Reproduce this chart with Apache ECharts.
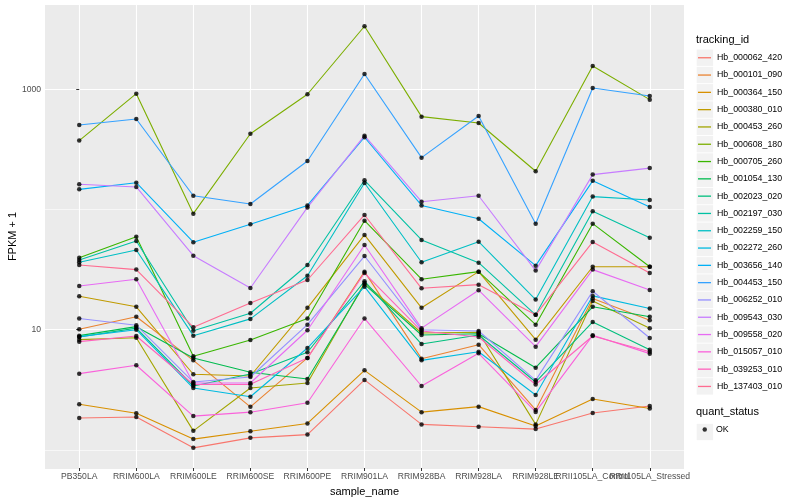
<!DOCTYPE html>
<html><head><meta charset="utf-8">
<script src="https://cdn.jsdelivr.net/npm/echarts@6/dist/echarts.min.js"></script>
<style>html,body{margin:0;padding:0;background:#fff}#c{width:800px;height:500px}</style>
</head><body><div id="c"></div>
<script>
const categories = ['PB350LA','RRIM600LA','RRIM600LE','RRIM600SE','RRIM600PE','RRIM901LA','RRIM928BA','RRIM928LA','RRIM928LE','RRII105LA_Control','RRII105LA_Stressed'];
const yTickLabels = [10, 1000];

const Hb_000062_420 = [1.84, 1.88, 1.04, 1.26, 1.34, 3.82, 1.63, 1.56, 1.49, 2.03, 2.32];
const Hb_000101_090 = [10.1, 12.8, 5.56, 2.28, 5.82, 30.4, 5.74, 7.50, 2.15, 18.2, 12.0];
const Hb_000364_150 = [2.40, 2.02, 1.23, 1.43, 1.66, 4.59, 2.06, 2.29, 1.58, 2.65, 2.21];
const Hb_000380_010 = [19.0, 15.5, 4.26, 4.12, 15.2, 61.4, 15.2, 30.4, 8.26, 33.4, 33.4];
const Hb_000453_260 = [8.26, 8.58, 1.44, 3.27, 3.60, 24.5, 9.39, 9.51, 1.63, 17.3, 10.3];
const Hb_000608_180 = [374, 919, 92.3, 427, 909, 3343, 592, 524, 208, 1563, 820];
const Hb_000705_260 = [39.7, 59.4, 6.01, 8.21, 12.4, 80.7, 26.3, 30.4, 11.0, 76.2, 33.4];
const Hb_001054_130 = [8.92, 10.6, 5.82, 4.42, 3.89, 23.8, 9.03, 9.26, 4.83, 15.5, 12.8];
const Hb_002023_020 = [8.69, 10.3, 3.40, 4.28, 6.49, 25.3, 7.60, 9.03, 3.67, 11.6, 6.82];
const Hb_002197_030 = [38.0, 54.7, 9.81, 13.7, 34.5, 175, 55.8, 36.1, 13.3, 96.6, 58.3];
const Hb_002259_150 = [36.4, 46.0, 8.92, 12.3, 28.1, 166, 36.4, 54.0, 17.8, 128, 120];
const Hb_002272_260 = [8.75, 10.0, 3.27, 2.77, 7.04, 22.8, 5.56, 6.56, 2.86, 19.1, 15.0];
const Hb_003656_140 = [147, 167, 53.4, 75.3, 108, 399, 108, 83.8, 34.1, 173, 105];
const Hb_004453_150 = [505, 566, 130, 111, 253, 1341, 270, 600, 76.2, 1025, 880];
const Hb_006252_010 = [12.4, 10.9, 3.67, 4.04, 11.0, 41.0, 10.0, 9.75, 3.79, 20.9, 8.53];
const Hb_009543_030 = [162, 154, 41.3, 22.2, 104, 411, 116, 130, 31.0, 195, 221];
const Hb_009558_020 = [23.1, 26.3, 3.60, 3.60, 9.89, 50.7, 10.3, 21.3, 7.22, 31.6, 21.4];
const Hb_015057_010 = [4.31, 5.06, 1.91, 2.06, 2.47, 12.4, 3.40, 6.36, 2.07, 8.98, 6.32];
const Hb_039253_010 = [7.95, 8.86, 3.50, 3.51, 5.82, 29.6, 9.75, 8.69, 3.50, 8.86, 6.56];
const Hb_137403_010 = [34.5, 31.6, 10.5, 16.7, 25.9, 90.0, 22.1, 23.7, 13.3, 53.7, 29.6];

const trackingIds = ['Hb_000062_420','Hb_000101_090','Hb_000364_150','Hb_000380_010','Hb_000453_260','Hb_000608_180','Hb_000705_260','Hb_001054_130','Hb_002023_020','Hb_002197_030','Hb_002259_150','Hb_002272_260','Hb_003656_140','Hb_004453_150','Hb_006252_010','Hb_009543_030','Hb_009558_020','Hb_015057_010','Hb_039253_010','Hb_137403_010'];
const seriesValues = [Hb_000062_420,Hb_000101_090,Hb_000364_150,Hb_000380_010,Hb_000453_260,Hb_000608_180,Hb_000705_260,Hb_001054_130,Hb_002023_020,Hb_002197_030,Hb_002259_150,Hb_002272_260,Hb_003656_140,Hb_004453_150,Hb_006252_010,Hb_009543_030,Hb_009558_020,Hb_015057_010,Hb_039253_010,Hb_137403_010];
const hueColors = ['#F8766D','#EA8331','#D89000','#C09B00','#A3A500','#7CAE00','#39B600','#00BB4E','#00BF7D','#00C1A3','#00BFC4','#00BAE0','#00B0F6','#35A2FF','#9590FF','#C77CFF','#E76BF3','#FA62DB','#FF62BC','#FF6C91'];
const statusName = 'OK';

const catIdx = categories.map((c, i) => i);
const evenIdx = catIdx.filter(i => i % 2 === 0);
const oddIdx = catIdx.filter(i => i % 2 === 1);
const FONT = "'Liberation Sans', Arial, Helvetica, sans-serif";
const Y_MIN = 0.707, Y_MAX = 5024;
const X_MIN = -0.6, X_MAX = catIdx.length - 1 + 0.6;

// legend layout constants
const LEG_LEFT = 697, LEG_TOP = 50.7, LEG_ITEM_H = 14, LEG_GAP = 3.3;
const OK_TOP = 425;

const series = trackingIds.map((id, k) => ({
  type: 'line', name: id,
  data: seriesValues[k].map((v, i) => [i, v]),
  symbol: 'none', color: hueColors[k],
  itemStyle: { color: hueColors[k] },
  lineStyle: { width: 1.1, color: hueColors[k] },
  silent: true, animation: false, emphasis: { disabled: true }
}));
const pts = [];
seriesValues.forEach(arr => arr.forEach((v, i) => pts.push([i, v])));
series.push({
  type: 'scatter', name: statusName, data: pts,
  symbol: 'circle', symbolSize: 4.5, itemStyle: { color: '#000' },
  silent: true, animation: false, z: 3
});

// grey key backgrounds (ggplot legend.key style)
const keyRects = trackingIds.map((id, k) => {
  const cy = LEG_TOP + LEG_ITEM_H / 2 + k * (LEG_ITEM_H + LEG_GAP);
  return { type: 'rect', silent: true, z: 0, shape: { x: LEG_LEFT - 0.3, y: cy - 8.2, width: 16.4, height: 16.4 }, style: { fill: '#F2F2F2' } };
});
keyRects.push({ type: 'rect', silent: true, z: 0, shape: { x: LEG_LEFT - 0.3, y: OK_TOP + LEG_ITEM_H / 2 - 8.2, width: 16.4, height: 16.4 }, style: { fill: '#F2F2F2' } });

function isPow(v, p) { return Math.abs(Math.log10(v) - Math.log10(p)) < 1e-6; }
const labelStyle = { fontSize: 8.6, color: '#4D4D4D', margin: 4.5, fontFamily: FONT, hideOverlap: false, showMinLabel: true, showMaxLabel: true };

const chart = echarts.init(document.getElementById('c'), null, { renderer: 'canvas' });
chart.setOption({
  animation: false,
  textStyle: { fontFamily: FONT },
  graphic: keyRects,
  title: [
    { text: 'tracking_id', left: 696, top: 34, padding: 0, textStyle: { fontSize: 11, fontWeight: 'normal', color: '#000', fontFamily: FONT } },
    { text: 'quant_status', left: 696, top: 406.5, padding: 0, textStyle: { fontSize: 11, fontWeight: 'normal', color: '#000', fontFamily: FONT } }
  ],
  legend: [
    {
      data: trackingIds, orient: 'vertical', left: LEG_LEFT, top: LEG_TOP, padding: 0,
      itemWidth: 15, itemHeight: LEG_ITEM_H, itemGap: LEG_GAP, selectedMode: false,
      icon: 'path://M0,0M15,14M1,6.4h13v1.3h-13z',
      textStyle: { fontSize: 8.8, color: '#000', fontFamily: FONT }
    },
    {
      data: [statusName], orient: 'vertical', left: 702.5, top: OK_TOP, padding: 0,
      itemWidth: 4.5, itemHeight: LEG_ITEM_H, selectedMode: false, icon: 'circle',
      textStyle: { fontSize: 8.8, color: '#000', fontFamily: FONT, padding: [0, 0, 0, 4] }
    }
  ],
  grid: { left: 45, top: 5, right: 116, bottom: 32, show: true, backgroundColor: '#EBEBEB', borderWidth: 0, outerBoundsMode: 'none', containLabel: false },
  xAxis: [
    {
      type: 'value', min: X_MIN, max: X_MAX, position: 'bottom',
      name: 'sample_name', nameLocation: 'middle', nameGap: 14,
      nameTextStyle: { fontSize: 11, color: '#000', fontFamily: FONT },
      axisLine: { show: false },
      axisTick: { show: true, length: 3, lineStyle: { color: '#333333' }, customValues: catIdx },
      axisLabel: Object.assign({ customValues: evenIdx, formatter: v => categories[v] || '' }, labelStyle),
      splitLine: { show: true, lineStyle: { color: '#FFFFFF', width: 1.1 } }
    },
    {
      type: 'value', min: X_MIN, max: X_MAX, position: 'bottom', offset: 0,
      axisLine: { show: false },
      axisTick: { show: false, customValues: oddIdx },
      axisLabel: Object.assign({ customValues: oddIdx, formatter: v => categories[v] || '' }, labelStyle),
      splitLine: { show: false }
    }
  ],
  yAxis: [
    {
      type: 'log', logBase: 10, min: Y_MIN, max: Y_MAX,
      name: 'FPKM + 1', nameLocation: 'middle', nameGap: 27, nameRotate: 90,
      nameTextStyle: { fontSize: 11, color: '#000', fontFamily: FONT },
      axisLine: { show: false },
      axisTick: { show: false },
      axisLabel: { show: false },
      splitLine: { show: true, lineStyle: { color: ['#EBEBEB', '#F7F7F7', '#FFFFFF', '#F7F7F7', '#FFFFFF', '#EBEBEB'], width: 1.1 } }
    },
    {
      type: 'log', logBase: 10, min: Y_MIN, max: Y_MAX, position: 'left', offset: 0,
      axisLine: { show: false },
      axisTick: { show: true, length: 3, lineStyle: { color: '#333333' }, customValues: yTickLabels },
      axisLabel: { customValues: yTickLabels, formatter: v => (yTickLabels.some(p => isPow(v, p)) ? String(Math.round(v)) : ''), fontSize: 8.6, color: '#4D4D4D', margin: 4, fontFamily: FONT },
      splitLine: { show: false }
    }
  ],
  series: series
});
</script></body></html>
